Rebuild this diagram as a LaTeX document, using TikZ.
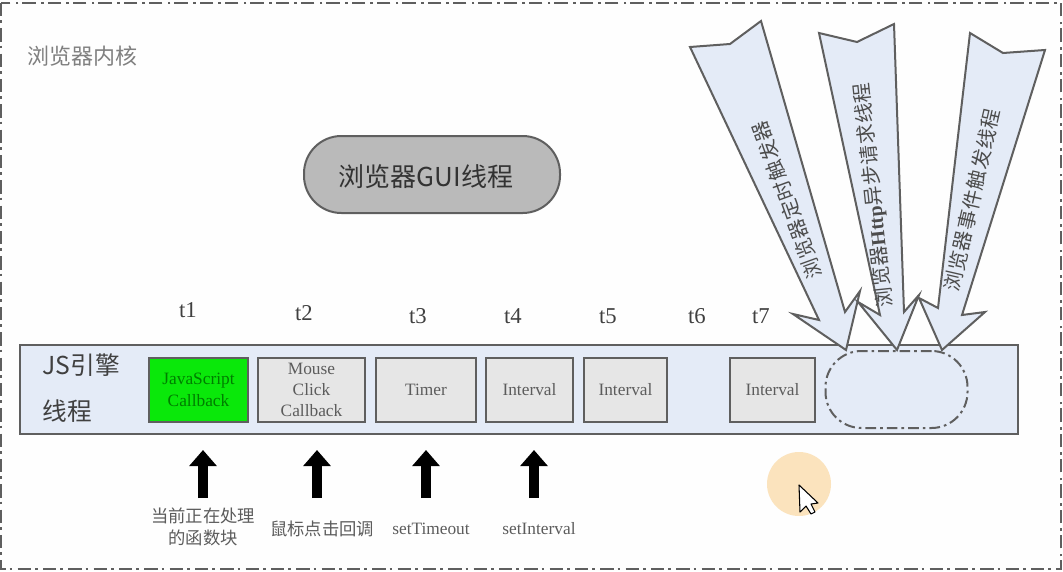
\documentclass[tikz,border=0pt]{standalone}
\usepackage{fontspec}
\setmainfont{Liberation Serif}
\newfontfamily\cjk{Noto Sans CJK SC}
\newfontfamily\cjkwide[LetterSpace=4]{Noto Sans CJK SC}
\usetikzlibrary{arrows.meta}
\definecolor{edge}{RGB}{95, 95, 95}
\definecolor{band}{RGB}{228, 235, 247}
\definecolor{slot}{RGB}{230, 230, 230}
\definecolor{pill}{RGB}{186, 186, 186}
\definecolor{hot}{RGB}{10, 232, 10}
\definecolor{halo}{RGB}{251, 227, 189}
\definecolor{ink}{RGB}{92, 92, 92}
\tikzset{
  slotbox/.style={draw=edge, fill=slot, line width=1.5pt, inner sep=0pt, align=center,
    text=ink, font=\fontsize{13}{16}\selectfont},
  tlabel/.style={font=\fontsize{17}{19}\selectfont, text=black!75},
  caption/.style={text=ink, align=center, font=\fontsize{13}{17}\selectfont},
  captioncjk/.style={text=ink, align=center, font=\fontsize{13}{17}\cjk},
  spike/.style={fill=band, draw=edge, line width=1.5pt, line join=miter},
  spiketext/.style={text=black!70, font=\fontsize{15}{17}\cjkwide},
  engtext/.style={anchor=west, text=black!75, font=\fontsize{18.5}{20}\cjk},
  pointer/.style={draw=black, line width=7.5pt, -{Triangle[length=12pt, width=20pt]}},
}

\begin{document}
\begin{tikzpicture}[x=0.75pt, y=-0.75pt]

  \useasboundingbox (0, 0) rectangle (1063, 571);
  \fill[white!99.5!black] (0, 0) rectangle (1063, 571);
  \draw[edge, line width=1.2pt, dash pattern=on 10pt off 3pt on 2pt off 4pt]
    (1, 3) rectangle (1061, 569);
  \node[text=black!50, font=\fontsize{16.5}{18}\cjk] (kernel) at (82, 56) {浏览器内核};

  %
  \node[draw=edge, fill=pill, line width=1.5pt, rounded corners=28pt, minimum width=192pt,
    minimum height=57.75pt] (gui) at (432, 174.5) {};
  \node[font=\fontsize{19.5}{21}\cjk, text=black!80] (guitext) at (426, 177) {浏览器GUI线程};

  %
  \node[draw=edge, fill=band, line width=1.5pt, minimum width=748.5pt, minimum height=66.75pt,
    inner sep=0pt] (engine) at (519, 389.5) {};
  \node[engtext] (engA) at (38, 365) {JS引擎};
  \node[engtext] (engB) at (38, 411) {线程};

  \node[draw=edge, fill=band, line width=1.5pt, rounded corners=27pt, minimum width=106.5pt,
    minimum height=57.75pt, dash pattern=on 8pt off 3pt on 2pt off 3pt] (idle) at (896.5, 389.5) {};

  \def\xlo{{149, 258, 376, 486, 584, 730}}
  \def\xhi{{248, 365, 476, 573, 667, 815}}
  \foreach \n/\lab in {1/{Mouse\\Click\\Callback}, 2/Timer, 3/Interval, 4/Interval, 5/Interval} {
    \pgfmathparse{\xlo[\n]}\edef\l{\pgfmathresult}
    \pgfmathparse{\xhi[\n]}\edef\u{\pgfmathresult}
    \pgfmathsetmacro{\c}{(\l + \u) / 2}
    \pgfmathsetmacro{\w}{(\u - \l) * 0.75}
    \node[slotbox, minimum width=\w pt, minimum height=48pt] (box\n) at (\c, 390) {\lab};
  }
  \node[slotbox, fill=hot, text=black!30!green!70!black, minimum width=74.25pt, minimum height=48pt]
    (box0) at (198.5, 390) {JavaScript\\Callback};

  %
  \foreach \n/\x/\y in {1/188/310, 2/304/313, 3/418/316, 4/513/316, 5/608/316, 6/697/316, 7/761/316} {
    \node[tlabel] (t\n) at (\x, \y) {t\n};
  }

  %
  \filldraw[spike] (690, 47) -- (730, 44) -- (761, 21) -- (845, 312) -- (860, 291)
    -- (846, 350) -- (793, 314) -- (819, 320) -- cycle;
  \node[spiketext, rotate=110] (timer) at (787, 200) {浏览器定时触发器};

  \filldraw[spike] (819, 33) -- (857, 42) -- (894, 24) -- (904, 312) -- (919, 295)
    -- (897, 350) -- (858, 302) -- (880, 315) -- cycle;
  \node[spiketext, rotate=96] (http) at (874, 195) {浏览器{\rmfamily\bfseries Http}异步请求线程};

  \filldraw[spike] (970, 33) -- (1003, 53) -- (1045, 50) -- (962, 315) -- (985, 312)
    -- (942, 350) -- (919, 298) -- (938, 308) -- cycle;
  \node[spiketext, rotate=77] (event) at (972, 200) {浏览器事件触发线程};

  %
  \node[captioncjk] (cap1) at (203, 527) {当前正在处理\\的函数块};
  \node[captioncjk] (cap2) at (322, 529) {鼠标点击回调};
  \node[caption] (cap3) at (431, 529) {setTimeout};
  \node[caption] (cap4) at (539, 529) {setInterval};
  \foreach \n/\x in {1/203, 2/317, 3/426, 4/534} {
    \coordinate (from\n) at (\x, 498);
    \coordinate (to\n) at (\x, 450);
    \draw[pointer] (from\n) -- (to\n);
  }

  %
  \fill[halo] (799, 484) circle (24pt);
  \filldraw[fill=white, draw=black, line width=0.8pt, line join=round] (799, 485) -- (800, 512)
    -- (806, 506) -- (811, 514) -- (815, 512) -- (811, 504) -- (818, 503) -- cycle;

\end{tikzpicture}
\end{document}
